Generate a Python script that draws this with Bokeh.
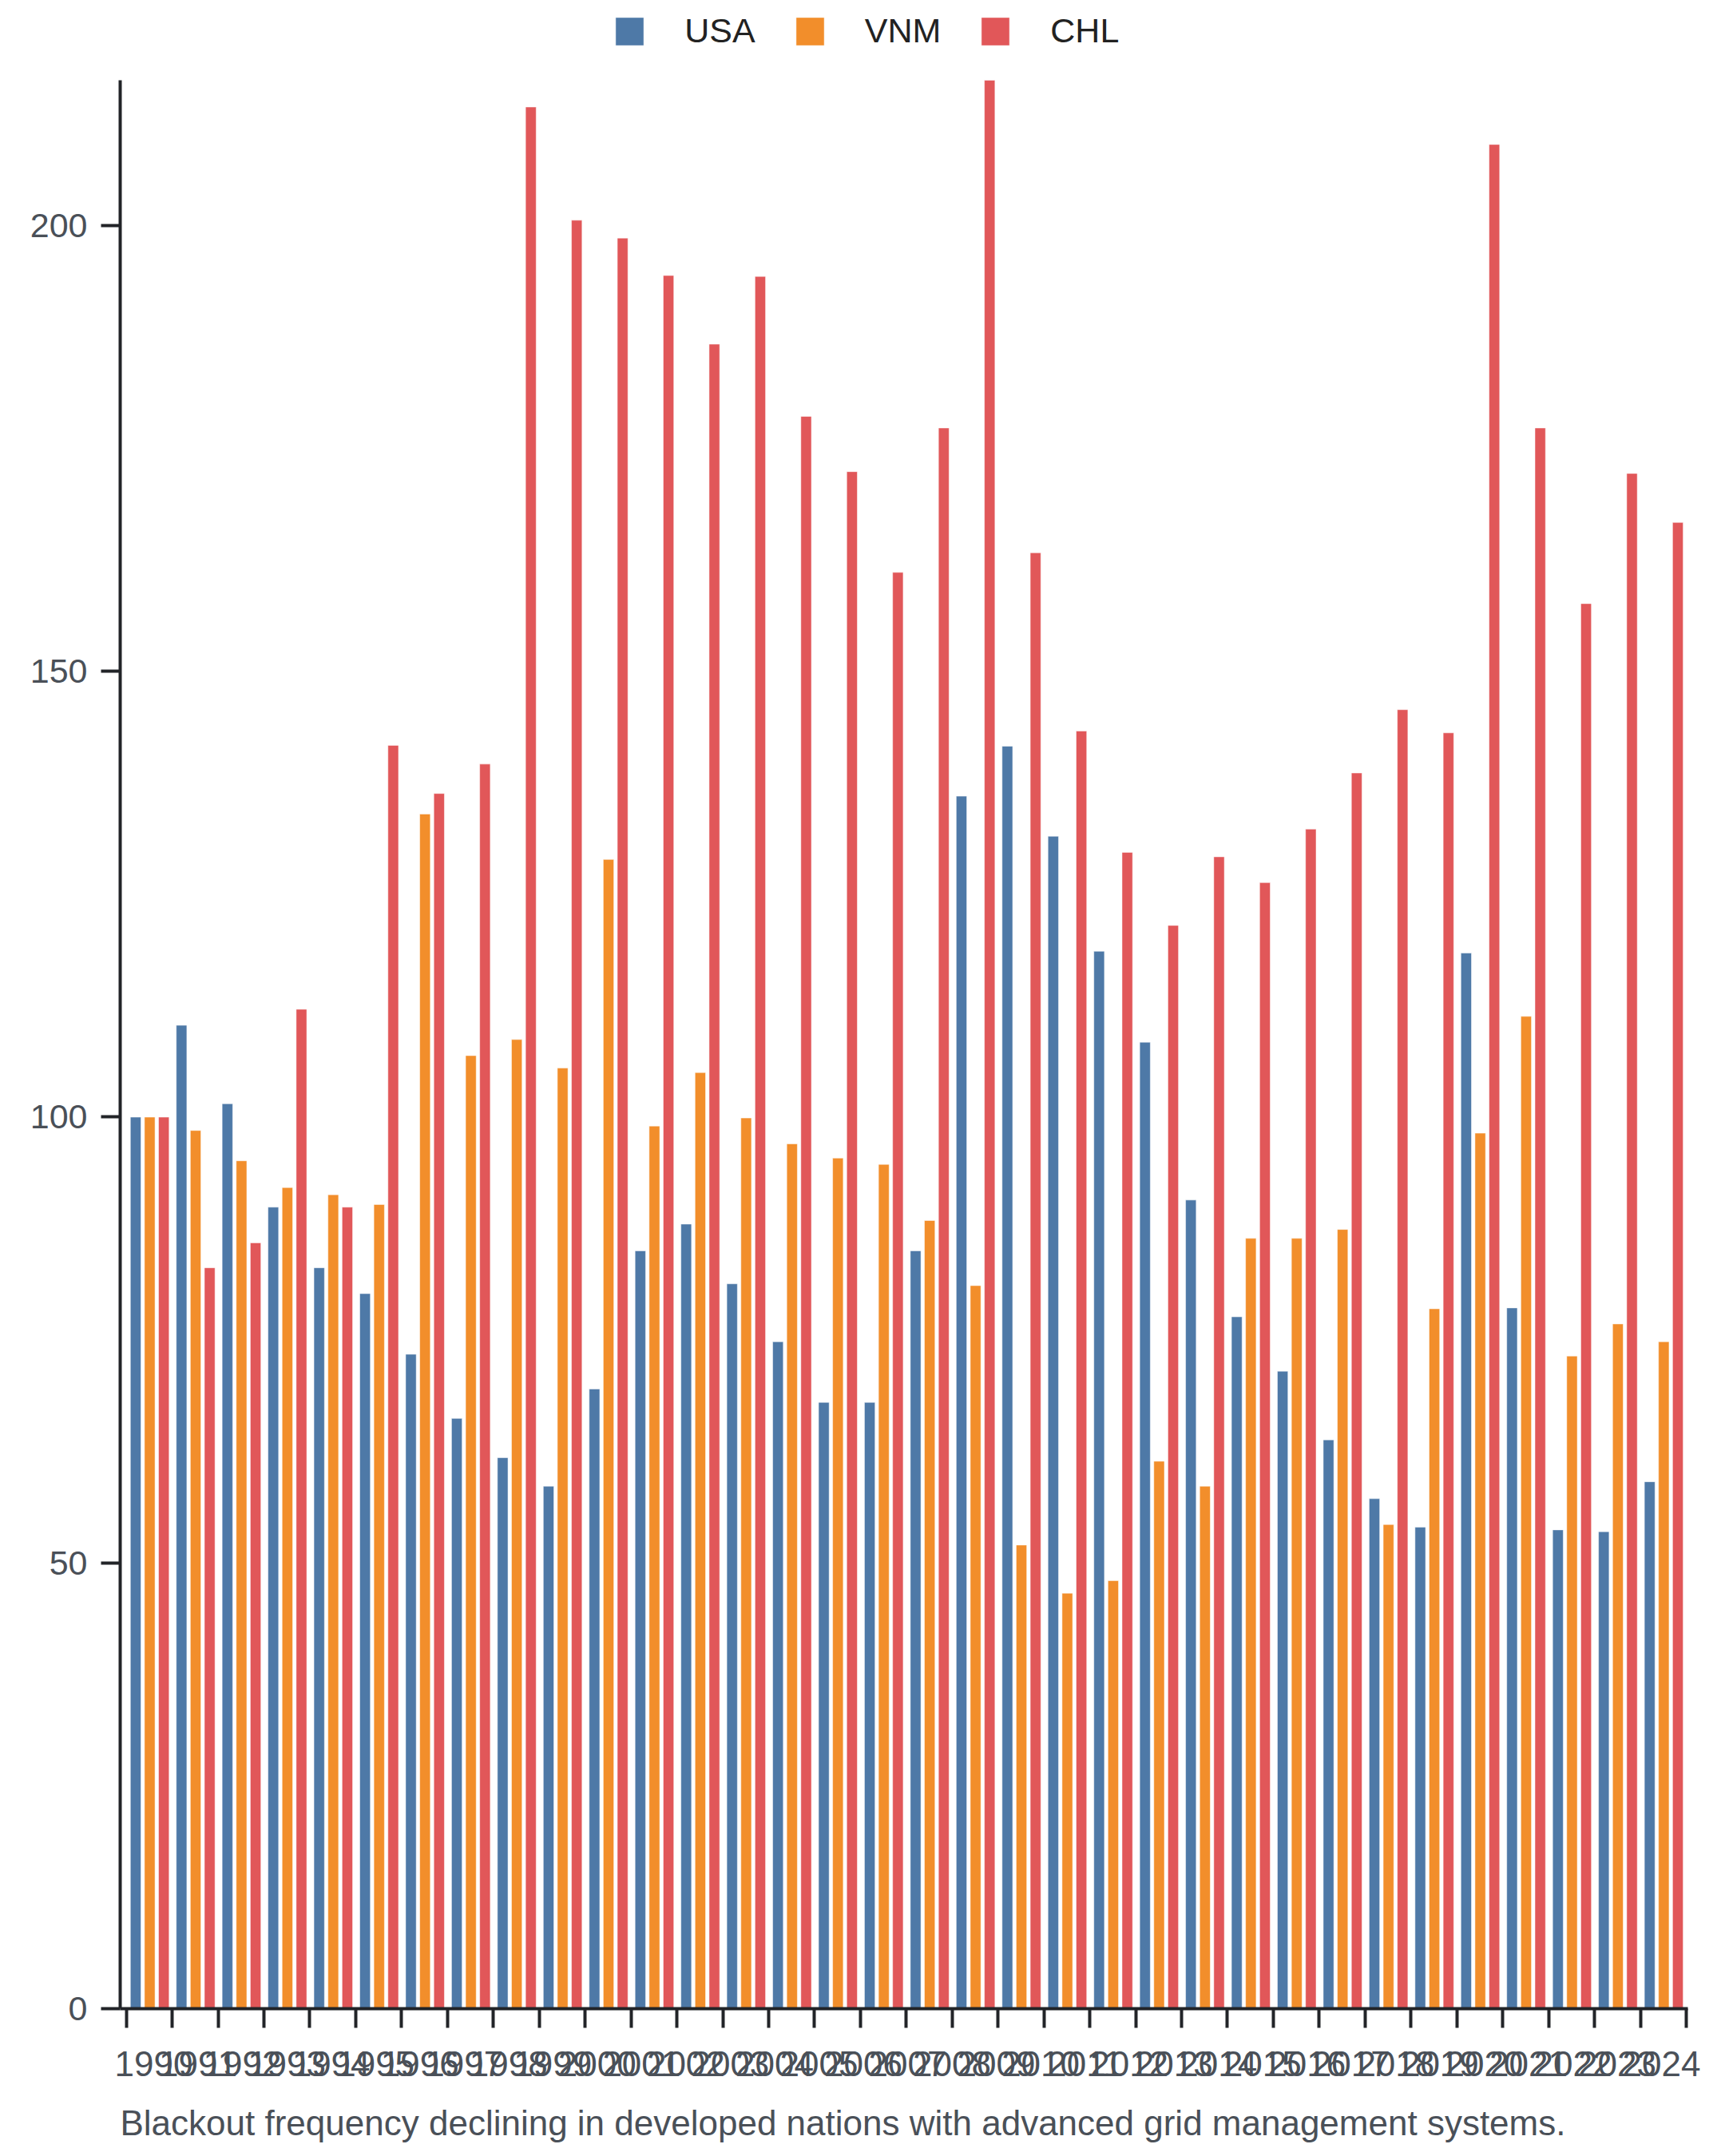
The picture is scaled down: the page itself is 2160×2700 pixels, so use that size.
from bokeh.plotting import figure
from bokeh.models import (ColumnDataSource, Range1d, FixedTicker, Legend, LegendItem,
                          Label)
from bokeh.transform import dodge
from bokeh.embed import file_html
from bokeh.resources import INLINE

years = list(range(1990, 2024))
usa = [100, 110.3, 101.5, 89.9, 83.1, 80.2, 73.4, 66.2, 61.8, 58.6,
       69.5, 85.0, 88.0, 81.3, 74.8, 68.0, 68.0, 85.0, 136.0, 141.6,
       131.5, 118.6, 108.4, 90.7, 77.6, 71.5, 63.8, 57.2, 54.0, 118.4,
       78.6, 53.7, 53.5, 59.1]
vnm = [100, 98.5, 95.1, 92.1, 91.3, 90.2, 134.0, 106.9, 108.7, 105.5,
       128.9, 99.0, 105.0, 99.9, 97.0, 95.4, 94.7, 88.4, 81.1, 52.0,
       46.6, 48.0, 61.4, 58.6, 86.4, 86.4, 87.4, 54.3, 78.5, 98.2,
       111.3, 73.2, 76.8, 74.8]
chl = [100, 83.1, 85.9, 112.1, 89.9, 141.7, 136.3, 139.6, 213.3, 200.6,
       198.6, 194.4, 186.7, 194.3, 178.6, 172.4, 161.1, 177.3, 216.3, 163.3,
       143.3, 129.7, 121.5, 129.2, 126.3, 132.3, 138.6, 145.7, 143.1, 209.1,
       177.3, 157.6, 172.2, 166.7]
series = ["USA", "VNM", "CHL"]
colors = ["#4e79a7", "#f28e2b", "#e15759"]
tick_years = list(range(1990, 2025))
y_ticks = [0, 50, 100, 150, 200]
y_max = 216.3
caption = "Blackout frequency declining in developed nations with advanced grid management systems."

FONT = "Liberation Sans"
AXIS_COLOR = "#222428"
LABEL_COLOR = "#4a5058"
source = ColumnDataSource(data=dict(year=years, USA=usa, VNM=vnm, CHL=chl))

W, H = 2144, 2684
AX_L, AX_R = 150, 2113          # axis extent in pixels
bar0, bar1 = 1989.866, 2024.035 # bar-year values at AX_L / AX_R
lab0, lab1 = 1989.2437, 2024.594  # label values at AX_L / AX_R
bar_ppu = (AX_R - AX_L) / (bar1 - bar0)
lab_ppu = (AX_R - AX_L) / (lab1 - lab0)
bar_range = Range1d(bar0 - AX_L / bar_ppu, bar0 + (W - AX_L) / bar_ppu)
lab_range = Range1d(lab0 - AX_L / lab_ppu, lab0 + (W - AX_L) / lab_ppu)

p = figure(width=W, height=H, output_backend="svg", toolbar_location=None,
           x_range=lab_range, y_range=Range1d(-15.14, 225.26),
           min_border_left=0, min_border_right=0, min_border_top=0,
           min_border_bottom=0)
p.outline_line_color = None
p.xgrid.visible = False
p.ygrid.visible = False
p.extra_x_ranges = {"bars": bar_range}

offsets = [0.203, 0.51, 0.817]
items = []
for name, col, off in zip(series, colors, offsets):
    r = p.vbar(x=dodge("year", off, range=bar_range), top=name,
               width=0.23, bottom=0, source=source, x_range_name="bars",
               fill_color=col, line_color="white", line_alpha=0.5, line_width=1)
    items.append(LegendItem(label=name, renderers=[r]))

boundary_ticks = [lab0 + (y - bar0) * bar_ppu / lab_ppu for y in tick_years]

xa = p.xaxis[0]
ya = p.yaxis[0]
for ax in (xa, ya):
    ax.axis_line_color = AXIS_COLOR
    ax.axis_line_width = 4
    ax.major_tick_line_color = AXIS_COLOR
    ax.major_tick_line_width = 4
    ax.major_tick_out = 24
    ax.major_tick_in = 0
    ax.minor_tick_line_color = None
    ax.major_label_text_font = FONT
    ax.major_label_text_font_size = "43px"
    ax.major_label_text_color = LABEL_COLOR

xa.fixed_location = 0
xa.bounds = (lab0, lab1)
xa.ticker = FixedTicker(ticks=tick_years, minor_ticks=boundary_ticks)
xa.major_tick_line_color = None
xa.minor_tick_line_color = AXIS_COLOR
xa.minor_tick_line_width = 4
xa.minor_tick_out = 24
xa.minor_tick_in = 0
xa.major_label_text_font_size = "44px"
xa.major_label_standoff = 30

ya.fixed_location = lab0
ya.ticker = FixedTicker(ticks=y_ticks)
ya.major_label_standoff = 17
ya.bounds = (0, y_max)

legend = Legend(items=items, orientation="horizontal", location=(766.3, 2621),
                glyph_width=44, glyph_height=44, label_standoff=47, spacing=46,
                padding=0, margin=0, border_line_alpha=0, background_fill_alpha=0,
                label_text_font=FONT, label_text_font_size="43px",
                label_text_color="#222222")
p.add_layout(legend, "center")

p.add_layout(Label(x=lab0, y=-12.8, text=caption, text_align="left",
                   text_baseline="middle", text_font=FONT, text_font_size="44px",
                   text_color=LABEL_COLOR))

open("out.html", "w").write(file_html(p, INLINE))
